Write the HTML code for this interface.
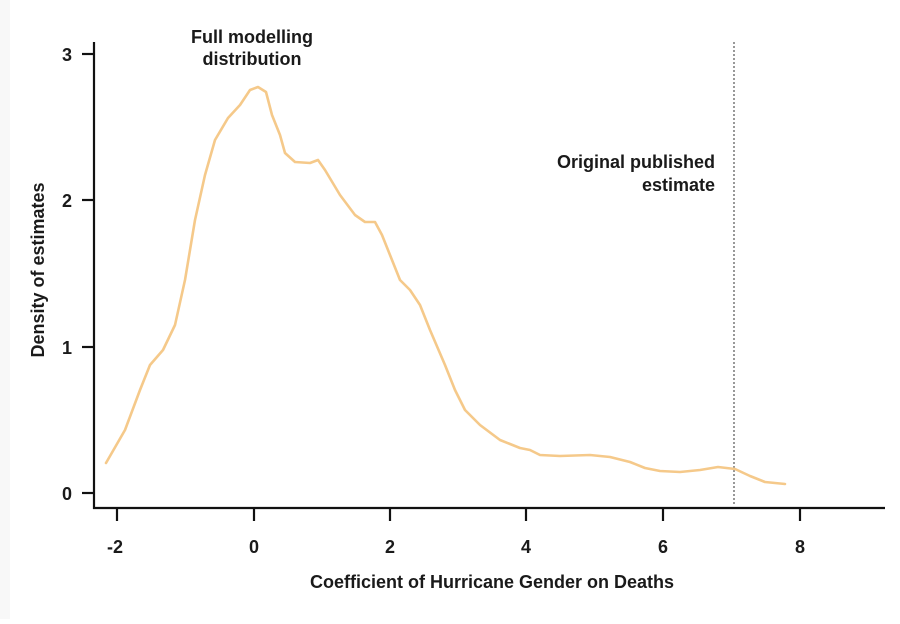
<!DOCTYPE html>
<html><head><meta charset="utf-8"><style>
html,body{margin:0;padding:0;background:#fff;}
svg text{font-family:"Liberation Sans",sans-serif;fill:#1a1a1a;}
</style></head><body>
<svg width="900" height="619" viewBox="0 0 900 619" xmlns="http://www.w3.org/2000/svg">
<rect width="900" height="619" fill="#fff"/>
<rect x="0" y="0" width="10" height="619" fill="#f8f8f8"/>
<g stroke="#111" stroke-width="2.2" fill="none">
<line x1="94" y1="42" x2="94" y2="509"/>
<line x1="93" y1="508" x2="885" y2="508"/>
<line x1="82" y1="54" x2="94" y2="54"/>
<line x1="82" y1="200" x2="94" y2="200"/>
<line x1="82" y1="347" x2="94" y2="347"/>
<line x1="82" y1="493" x2="94" y2="493"/>
<line x1="117" y1="508" x2="117" y2="521"/>
<line x1="254" y1="508" x2="254" y2="521"/>
<line x1="390" y1="508" x2="390" y2="521"/>
<line x1="526" y1="508" x2="526" y2="521"/>
<line x1="663" y1="508" x2="663" y2="521"/>
<line x1="800" y1="508" x2="800" y2="521"/>
</g>
<line x1="734" y1="42" x2="734" y2="506" stroke="#555" stroke-width="1.2" stroke-dasharray="2,2"/>
<g font-size="18" font-weight="bold" text-anchor="end">
<text x="72" y="61">3</text><text x="72" y="207">2</text><text x="72" y="354">1</text><text x="72" y="500">0</text>
</g>
<g font-size="18" font-weight="bold" text-anchor="middle">
<text x="115" y="553">-2</text><text x="254" y="553">0</text><text x="390" y="553">2</text><text x="526" y="553">4</text><text x="663" y="553">6</text><text x="800" y="553">8</text>
</g>
<text x="492" y="588" font-size="18" font-weight="bold" text-anchor="middle">Coefficient of Hurricane Gender on Deaths</text>
<text transform="translate(44,270) rotate(-90)" font-size="18" font-weight="bold" text-anchor="middle">Density of estimates</text>
<g font-size="18" font-weight="bold" text-anchor="middle">
<text x="252" y="43">Full modelling</text><text x="252" y="65">distribution</text>
</g>
<g font-size="18" font-weight="bold" text-anchor="end">
<text x="715" y="168">Original published</text><text x="715" y="191">estimate</text>
</g>
<path fill="none" stroke="#f5c98a" stroke-width="2.6" stroke-linejoin="round" stroke-linecap="round"
d="M106,463 L125,430 L140,390 L150,365 L163,350 L175,325 L185,280 L195,220 L205,175 L215,140 L228,118 L240,105 L250,90 L258,87 L266,92 L272,115 L280,135 L285,153 L295,162 L310,163 L318,160 L325,170 L340,195 L355,215 L365,222 L375,222 L382,235 L392,260 L400,280 L410,290 L420,305 L430,330 L445,365 L455,390 L465,410 L480,425 L500,440 L520,448 L530,450 L540,455 L560,456 L590,455 L610,457 L630,462 L645,468 L660,471 L680,472 L700,470 L718,467 L735,469 L750,476 L765,482 L785,484"/>
</svg>
</body></html>
